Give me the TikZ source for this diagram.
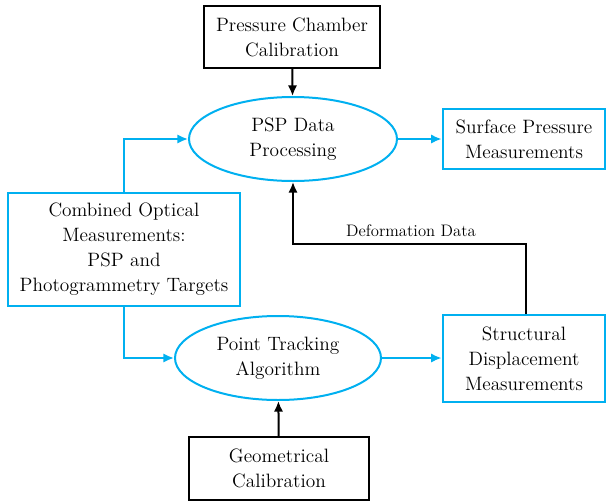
\documentclass[tikz,border=0pt]{standalone}
\usetikzlibrary{arrows.meta,shapes.geometric}
\definecolor{skyblue}{RGB}{0,176,240}
\tikzset{
  flowbox/.style={draw, line width=1.5pt, align=center, inner sep=0pt,
    font=\fontsize{14.5}{18.75}\selectfont},
  flowoval/.style={ellipse, draw=skyblue, line width=1.5pt, align=center, inner sep=0pt,
    font=\fontsize{14.5}{18.75}\selectfont},
  flowarrow/.style={line width=1.5pt, -{Latex[length=8pt,width=7pt]}}
}
\begin{document}
\begin{tikzpicture}[x=0.75pt,y=-0.75pt]
	\useasboundingbox (0,0) rectangle (608,501);
	% boxes
	\node [flowbox, minimum width=132pt, minimum height=46.5pt] (chamber) at (292,37) {Pressure Chamber\\Calibration};
	\node [flowbox, draw=skyblue, minimum width=122pt, minimum height=45pt] (surface) at (524,139) {Surface Pressure\\Measurements};
	\node [flowbox, draw=skyblue, minimum width=174pt, minimum height=85pt] (optical) at (124,249.5) {Combined Optical\\Measurements:\\PSP and\\Photogrammetry Targets};
	\node [flowbox, draw=skyblue, minimum width=122pt, minimum height=65pt] (structural) at (524,358.5) {Structural\\Displacement\\Measurements};
	\node [flowbox, minimum width=135pt, minimum height=47pt] (geometric) at (279,468.5) {Geometrical\\Calibration};
	% ellipses
	\node [flowoval, minimum width=156pt, minimum height=63pt] (psp) at (293,139) {PSP Data\\Processing};
	\node [flowoval, minimum width=154.5pt, minimum height=63pt] (tracking) at (278,358) {Point Tracking\\Algorithm};
	% connectors
	\draw [flowarrow] (chamber) -- (psp);
	\draw [flowarrow] (geometric) -- (tracking);
	\draw [flowarrow, skyblue] (psp.east) -- (surface.west |- psp.east);
	\draw [flowarrow, skyblue] (tracking.east) -- (structural.west |- tracking.east);
	\draw [flowarrow, skyblue] (optical.north) |- (psp.west);
	\draw [flowarrow, skyblue] (optical.south) |- (tracking.west);
	\coordinate (bendA) at (526,244);
	\coordinate (bendB) at (293,244);
	\draw [flowarrow] (structural.north -| bendA) -- (bendA) -- (bendB) -- (psp.south);
	\node [font=\fontsize{12.5}{16}\selectfont] (deflabel) at (411,231) {Deformation Data};
\end{tikzpicture}
\end{document}
